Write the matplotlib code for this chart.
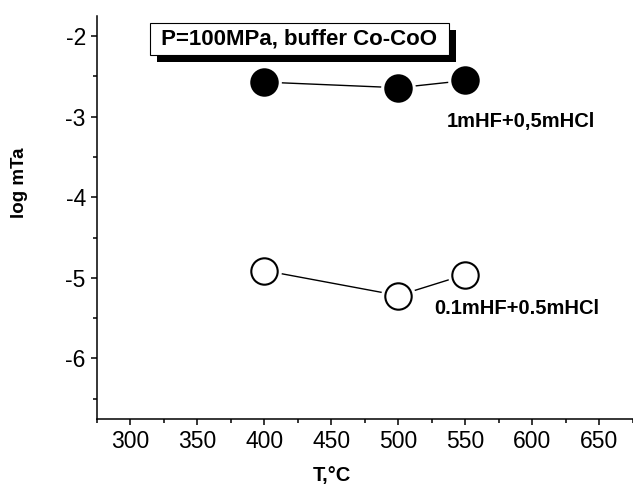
import matplotlib
matplotlib.use("Agg")
import matplotlib.pyplot as plt
from matplotlib.ticker import MultipleLocator
import matplotlib.patheffects as pe

plt.rcParams['font.family'] = ['Liberation Sans', 'DejaVu Sans']
plt.rcParams['axes.unicode_minus'] = False

# data
temp = [400, 500, 550]
logm_hf1 = [-2.57, -2.64, -2.55]      # 1mHF+0,5mHCl (filled)
logm_hf01 = [-4.91, -5.22, -4.96]     # 0.1mHF+0.5mHCl (open)
label_hf1 = "1mHF+0,5mHCl"
label_hf01 = "0.1mHF+0.5mHCl"
title_box = "P=100MPa, buffer Co-CoO"

fig = plt.figure(figsize=(6.33, 4.87), dpi=100)
ax = fig.add_axes([0.1532, 0.1402, 0.8468, 0.8268])

ms = 19
for y, face in [(logm_hf1, 'black'), (logm_hf01, 'white')]:
    ax.plot(temp, y, '-', color='black', lw=1.0, zorder=2)
    # white halo gives the gap between line and marker
    ax.plot(temp, y, 'o', ms=ms + 6, mfc='white', mec='none', zorder=3)
    ax.plot(temp, y, 'o', ms=ms, mfc=face, mec='black', mew=1.5, zorder=4)

ax.text(536, -3.06, label_hf1, fontsize=14.5, fontweight='bold', va='center')
ax.text(527, -5.38, label_hf01, fontsize=14.5, fontweight='bold', va='center')

t = ax.text(426, -2.035, " " + title_box + " ", fontsize=16, fontweight='bold',
            ha='center', va='center',
            bbox=dict(boxstyle='square,pad=0.25', fc='white', ec='black', lw=0.8), zorder=6)
t.get_bbox_patch().set_path_effects([
    pe.SimplePatchShadow(offset=(5, -5), shadow_rgbFace='black', alpha=1.0),
    pe.Normal()])

ax.set_xlim(275, 675)
ax.set_ylim(-6.75, -1.75)
ax.xaxis.set_major_locator(MultipleLocator(50))
ax.xaxis.set_minor_locator(MultipleLocator(25))
ax.yaxis.set_major_locator(MultipleLocator(1))
ax.yaxis.set_minor_locator(MultipleLocator(0.5))
ax.set_xticks(range(300, 651, 50))

for s in ['top', 'right']:
    ax.spines[s].set_visible(False)
for s in ['left', 'bottom']:
    ax.spines[s].set_linewidth(1.1)
ax.tick_params(which='major', direction='out', length=4.5, width=1.1, labelsize=16.5)
ax.tick_params(which='minor', direction='out', length=3, width=1.1)

ax.set_xlabel("T,°C", fontsize=14.5, fontweight='bold')
ax.xaxis.set_label_coords(0.438, -0.117)
ax.set_ylabel("log mTa", fontsize=13.5, fontweight='bold')
ax.yaxis.set_label_coords(-0.129, 0.585)

fig.savefig("out.png", dpi=100)
